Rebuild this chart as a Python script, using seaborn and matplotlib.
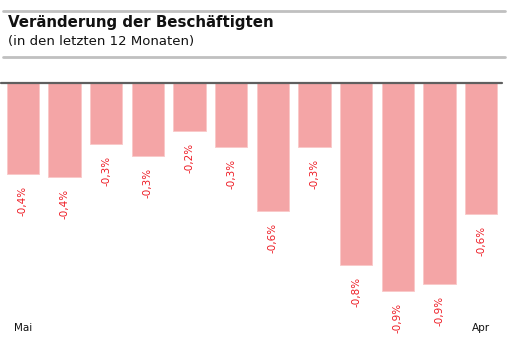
import numpy as np
import pandas as pd
import matplotlib
matplotlib.use("Agg")
import matplotlib.pyplot as plt
import seaborn as sns

# Data: change in employment over the last 12 months (percent)
months = ["Mai", "Jun", "Jul", "Aug", "Sep", "Okt", "Nov", "Dez", "Jan", "Feb", "Mär", "Apr"]
changes = [-0.416, -0.43, -0.28, -0.335, -0.22, -0.294, -0.584, -0.294, -0.83, -0.946, -0.914, -0.597]
shown_months = ["Mai", "Apr"]

df = pd.DataFrame({"month": months, "change": changes})

sns.set_style("white")
plt.rcParams["font.family"] = ["DejaVu Sans"]

W, H = 516, 351
fig = plt.figure(figsize=(W / 100, H / 100), dpi=100)

# axes placed in pixel terms
left, right, top, bottom = 2, 502, 82, 340
ax = fig.add_axes([left / W, 1 - bottom / H, (right - left) / W, (bottom - top) / H])

sns.barplot(data=df, x="month", y="change", color="#f4a5a6", saturation=1,
            width=0.77, ax=ax, edgecolor="#f9c8c8", linewidth=0.6)

ax.set_ylim(-(bottom - top) / 221, 0)
ax.set_xlim(-0.5, len(months) - 0.5)

for i, v in enumerate(changes):
    label = f"{v:.1f}".replace(".", ",") + "%"
    ax.annotate(label, (i, v), xytext=(0, -8.5), textcoords="offset points",
                rotation=90, ha="center", va="top", color="#ee1c25", fontsize=7.5)

ax.set_xticks([months.index(m) for m in shown_months])
ax.set_xticklabels(shown_months, fontsize=7.5, color="#111111")
ax.tick_params(axis="x", length=0, pad=-12.5)
ax.set_yticks([])
ax.set_xlabel("")
ax.set_ylabel("")
for s in ["left", "right", "bottom", "top"]:
    ax.spines[s].set_visible(False)

# dark baseline at zero
fig.add_artist(plt.Line2D([1 / W, 502 / W], [1 - 82.5 / H, 1 - 82.5 / H],
                          color="#5f5f5f", linewidth=1.6))

# header rules and titles
for y in [10.5, 56.5]:
    fig.add_artist(plt.Line2D([3 / W, 505 / W], [1 - y / H, 1 - y / H],
                              color="#c0c0c0", linewidth=2.0))
fig.text(8 / W, 1 - 22 / H, "Veränderung der Beschäftigten", fontsize=10.8,
         fontweight="bold", va="center", ha="left", color="#111111")
fig.text(8 / W, 1 - 41 / H, "(in den letzten 12 Monaten)", fontsize=9.5,
         va="center", ha="left", color="#111111")

fig.savefig("out.png", dpi=100)
